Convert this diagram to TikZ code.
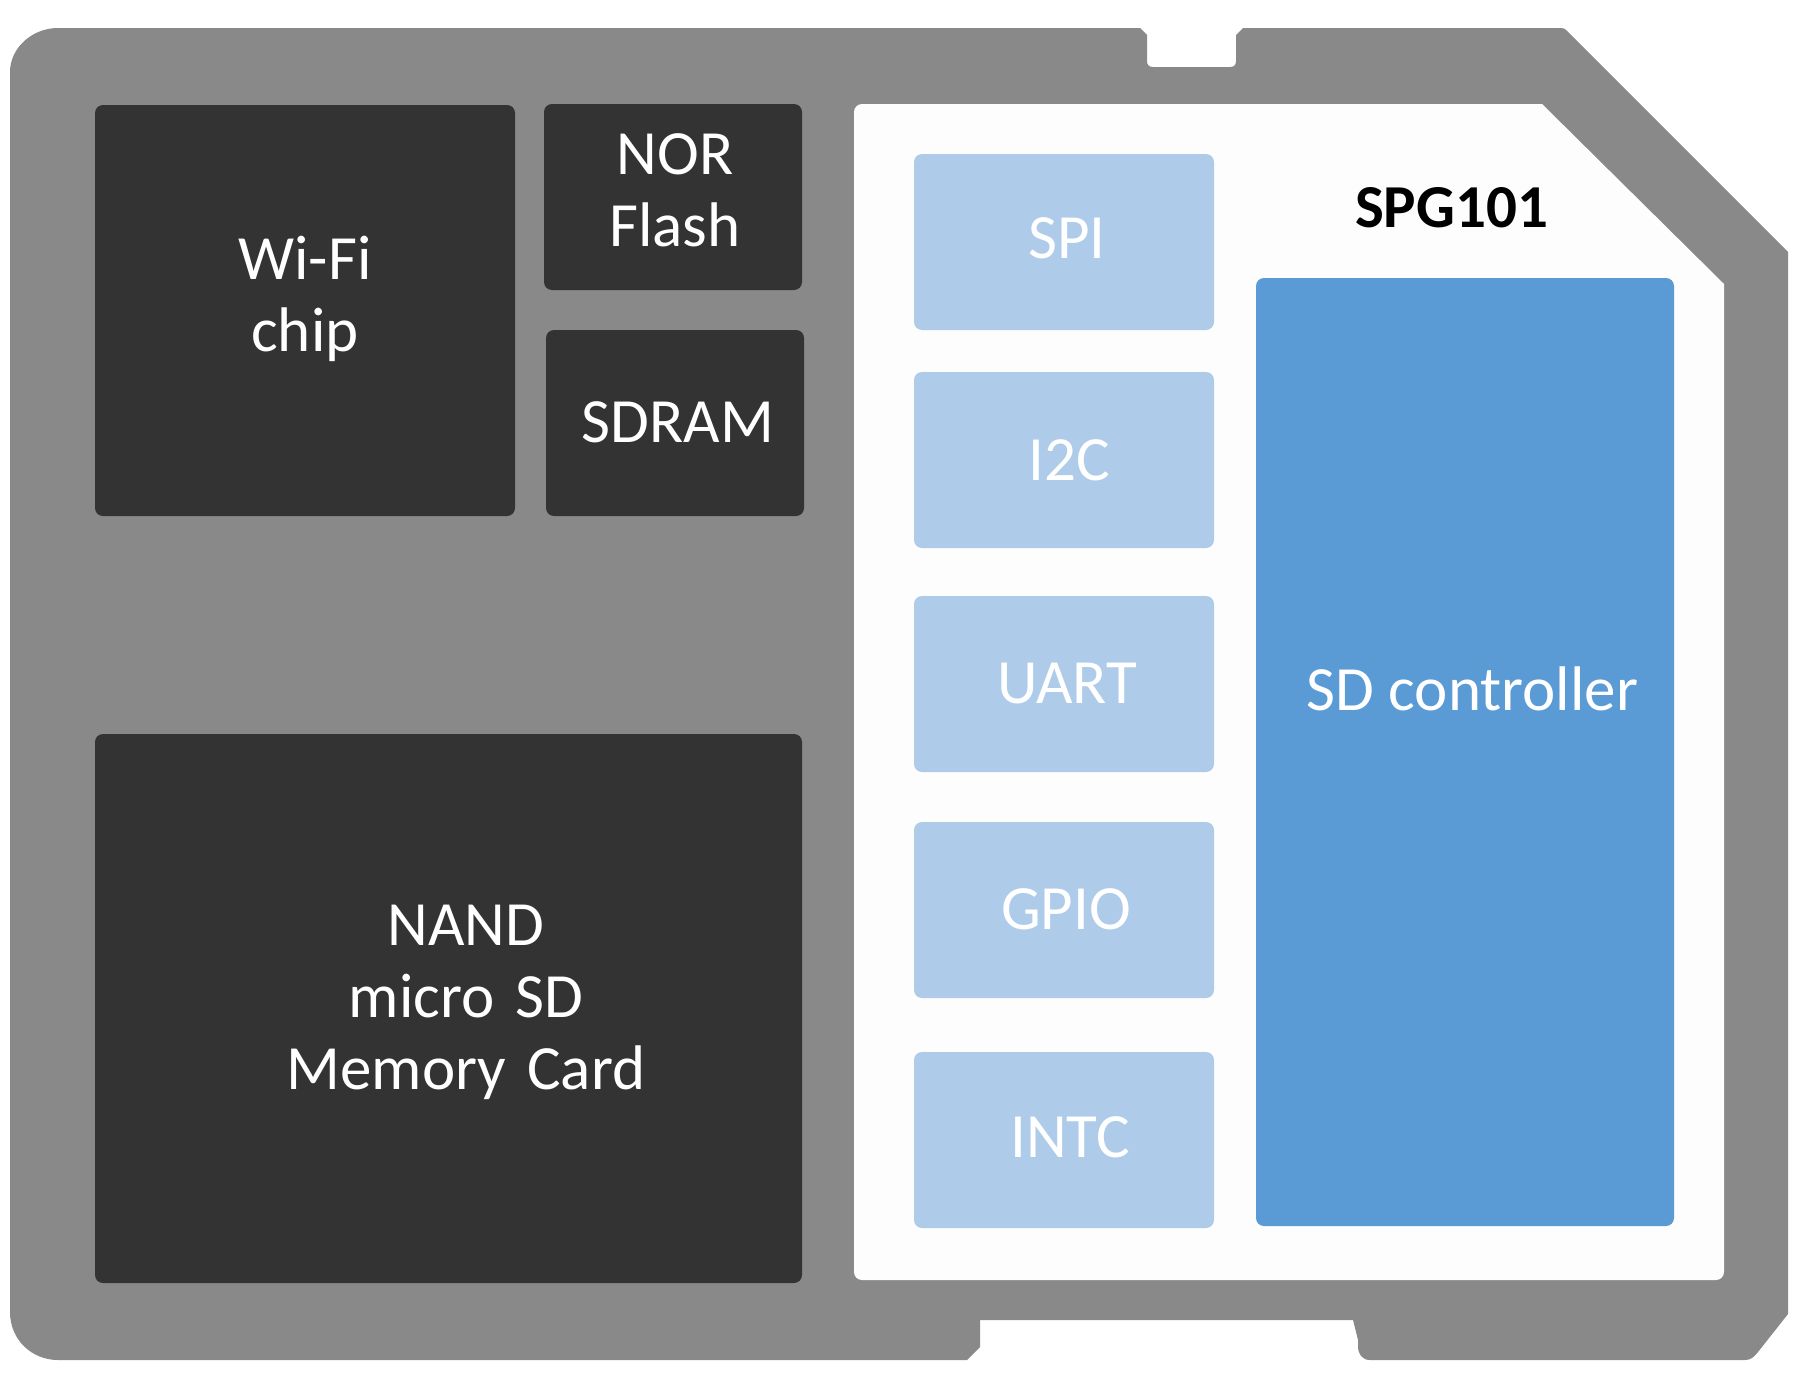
\documentclass[tikz,border=0pt]{standalone}
\usepackage{fontspec}
\setmainfont{Carlito}
\definecolor{cardgray}{RGB}{137,137,137}
\definecolor{chipdark}{RGB}{51,51,51}
\definecolor{panelw}{RGB}{253,253,253}
\definecolor{lblue}{RGB}{174,204,234}
\definecolor{dblue}{RGB}{91,155,213}
\begin{document}
\begin{tikzpicture}[x=1pt,y=-1pt,
  blk/.style={rectangle, rounded corners=8pt, inner sep=0pt, outer sep=0pt, anchor=north west},
  darkblk/.style={blk, fill=chipdark},
  periph/.style={blk, fill=lblue, minimum width=300pt, minimum height=176pt},
  ctrl/.style={blk, fill=dblue},
  txt/.style={font=\fontsize{63}{72}\selectfont, text=white, inner sep=0pt, anchor=base},
  mtxt/.style={txt, align=center, text width=600pt},
]
\useasboundingbox (0,0) rectangle (1800,1400);
% card outline
\fill[cardgray] (10,1312) -- (10,72) .. controls (10,48) and (32,28) .. (58,28)
  -- (1140,28) -- (1147,35) -- (1147,61) .. controls (1147,65) and (1149,67) .. (1153,67)
  -- (1230,67) .. controls (1234,67) and (1236,65) .. (1236,61) -- (1236,35) -- (1243,28)
  -- (1561,28) .. controls (1564,28) and (1565,29) .. (1566,30)
  -- (1788,252) -- (1788,1314) -- (1758,1352) .. controls (1754,1357) and (1751,1360) .. (1745,1360)
  -- (1370,1360) .. controls (1362,1360) and (1358,1354) .. (1358,1346) -- (1358,1340) -- (1353,1320)
  -- (980,1320) -- (980,1347) -- (967,1360)
  -- (58,1360) .. controls (32,1360) and (10,1340) .. (10,1312) -- cycle;
% SPG101 panel
\fill[panelw] (862,104) -- (1542,104) -- (1724,284) -- (1724,1272)
  .. controls (1724,1276.4) and (1720.4,1280) .. (1716,1280) -- (862,1280)
  .. controls (857.6,1280) and (854,1276.4) .. (854,1272) -- (854,112)
  .. controls (854,107.6) and (857.6,104) .. (862,104) -- cycle;
% dark chips
\node[darkblk, minimum width=420pt, minimum height=411pt] (wifi) at (95,105) {};
\node[darkblk, minimum width=258pt, minimum height=186pt] (nor) at (544,104) {};
\node[darkblk, minimum width=258pt, minimum height=186pt] (sdram) at (546,330) {};
\node[darkblk, minimum width=707pt, minimum height=549pt] (nand) at (95,734) {};
% peripherals
\node[periph] (spi) at (914,154) {};
\node[periph] (i2c) at (914,372) {};
\node[periph] (uart) at (914,596) {};
\node[periph] (gpio) at (914,822) {};
\node[periph] (intc) at (914,1052) {};
\node[ctrl, minimum width=418pt, minimum height=948pt] (sdc) at (1256,278) {};
% texts
\node[mtxt] (wifi-t) at (305,279) {Wi-Fi\\chip};
\node[mtxt] (nor-t) at (675,174) {NOR\\Flash};
\node[txt] (sdram-t) at (678,442) {SDRAM};
\node[mtxt] (nand-t) at (466,945.5) {NAND\\micro SD\\Memory Card};
\node[txt, text=black, font=\bfseries\fontsize{61}{72}\selectfont] (spg-t) at (1451.5,227) {SPG101};
\node[txt] (sdc-t) at (1472.5,710) {SD controller};
\node[txt] (spi-t) at (1067,258) {SPI};
\node[txt] (i2c-t) at (1069,480) {I2C};
\node[txt] (uart-t) at (1067,703) {UART};
\node[txt] (gpio-t) at (1066,929) {GPIO};
\node[txt] (intc-t) at (1070,1157) {INTC};
\end{tikzpicture}
\end{document}
